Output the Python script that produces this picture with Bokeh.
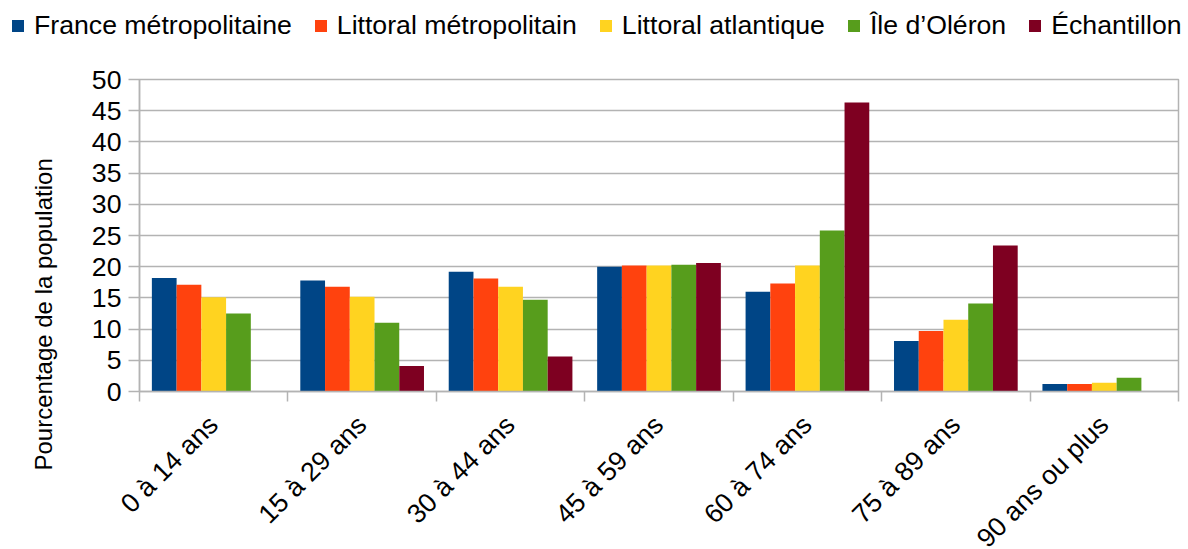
import math
import numpy as np
from bokeh.plotting import figure
from bokeh.layouts import column, row
from bokeh.models import Range1d, FixedTicker, Legend, LegendItem
from bokeh.core.properties import value
from bokeh.embed import file_html
from bokeh.resources import INLINE

categories = ["0 à 14 ans", "15 à 29 ans", "30 à 44 ans", "45 à 59 ans",
              "60 à 74 ans", "75 à 89 ans", "90 ans ou plus"]
series_names = ["France métropolitaine", "Littoral métropolitain",
                "Littoral atlantique", "Île d’Oléron", "Échantillon"]
colors = ["#004586", "#ff420e", "#ffd320", "#579d1c", "#7e0021"]
france = [18.2, 17.8, 19.2, 20.0, 16.0, 8.1, 1.2]
littoral = [17.1, 16.8, 18.1, 20.2, 17.3, 9.7, 1.2]
atlantique = [15.1, 15.2, 16.8, 20.2, 20.2, 11.5, 1.4]
oleron = [12.5, 11.0, 14.7, 20.3, 25.8, 14.1, 2.2]
echantillon = [0.0, 4.1, 5.6, 20.6, 46.3, 23.4, 0.0]
y_ticks = list(range(0, 55, 5))
y_title = "Pourcentage de la population"

series = [france, littoral, atlantique, oleron, echantillon]

FONT = "Liberation Sans"
GRID = "#b3b3b3"
W = 1188
TW = 60                       # width of the y-title strip, px
CW = W - TW                   # width of chart column, px
LEFT, RIGHT = 79, 10          # frame borders of the chart inside its column, px
LEG_H, CH_H, LAB_H = 63, 342, 144
n = len(categories)
bw = 1.0 / 6.0
centers = np.arange(n) + 0.5


def bare(fig):
    fig.frame_align = False
    fig.outline_line_color = None
    fig.grid.visible = False
    return fig


# ---- legend strip (series drawn far out of view, only the legend shows) ----
lg = bare(figure(width=W, height=LEG_H, x_range=Range1d(100, 101),
                 y_range=Range1d(1000, 1001),
                 output_backend="svg", toolbar_location=None,
                 x_axis_type=None, y_axis_type=None,
                 min_border_left=0, min_border_right=0, min_border_top=0,
                 min_border_bottom=0))
items = []
for k, (name, vals, col) in enumerate(zip(series_names, series, colors)):
    r = lg.vbar(x=centers + (k - 2) * bw, top=vals, width=bw,
                fill_color=col, line_color=None)
    items.append(LegendItem(label=name, renderers=[r]))
legend = Legend(items=items, orientation="horizontal", location="top_left",
                glyph_width=15, glyph_height=15, label_standoff=9, spacing=21,
                label_height=31, padding=0, margin=10, border_line_color=None,
                background_fill_alpha=0,
                label_text_font=FONT, label_text_font_size="26.67px",
                label_text_color="black")
lg.add_layout(legend, "center")

# ---- y title strip (pixel coordinates) ----
th = CH_H + LAB_H
ttl = bare(figure(width=TW, height=th, x_range=Range1d(0, TW), y_range=Range1d(0, th),
                  output_backend="svg", toolbar_location=None,
                  x_axis_type=None, y_axis_type=None,
                  min_border_left=0, min_border_right=0, min_border_top=0,
                  min_border_bottom=0))
ttl.text(x=[43], y=[th - (470 - LEG_H)], text=[y_title], angle=math.pi / 2,
         text_align="left", text_baseline="middle",
         text_font=value(FONT), text_font_size="24px", text_color="black")

# ---- main chart ----
p = figure(width=CW, height=CH_H, x_range=Range1d(0, n), y_range=Range1d(0, 50),
           output_backend="svg", toolbar_location=None,
           min_border_left=LEFT, min_border_right=RIGHT, min_border_top=16,
           min_border_bottom=14)
p.frame_align = False
p.background_fill_color = "white"
p.border_fill_color = "white"
p.outline_line_color = GRID
p.outline_line_width = 1.5

for k, (vals, col) in enumerate(zip(series, colors)):
    p.vbar(x=centers + (k - 2) * bw, top=vals, width=bw,
           fill_color=col, line_color=None)

p.xgrid.visible = False
p.ygrid.ticker = FixedTicker(ticks=y_ticks)
p.ygrid.grid_line_color = GRID
p.ygrid.grid_line_width = 1.5

ya = p.yaxis[0]
ya.ticker = FixedTicker(ticks=y_ticks)
ya.axis_line_color = GRID
ya.axis_line_width = 1.5
ya.major_tick_line_color = GRID
ya.major_tick_line_width = 1.5
ya.major_tick_out = 11
ya.major_tick_in = 0
ya.minor_tick_line_color = None
ya.major_label_standoff = 7
ya.major_label_text_font = FONT
ya.major_label_text_font_size = "26.67px"
ya.major_label_text_color = "black"

xa = p.xaxis[0]
xa.ticker = FixedTicker(ticks=list(centers), minor_ticks=list(range(n + 1)))
xa.axis_line_color = GRID
xa.axis_line_width = 1.5
xa.major_tick_out = 0
xa.major_tick_in = 0
xa.minor_tick_line_color = GRID
xa.minor_tick_line_width = 1.5
xa.minor_tick_out = 10
xa.minor_tick_in = 0
xa.major_label_overrides = {float(c): "" for c in centers}
xa.major_label_text_font_size = "0px"
xa.major_label_standoff = 0

# ---- category labels strip, aligned with the chart's x scale ----
unit = (CW - LEFT - RIGHT) / n
lab = bare(figure(width=CW, height=LAB_H,
                  x_range=Range1d(-LEFT / unit, n + RIGHT / unit), y_range=Range1d(0, 1),
                  output_backend="svg", toolbar_location=None,
                  x_axis_type=None, y_axis_type=None,
                  min_border_left=0, min_border_right=0, min_border_top=0,
                  min_border_bottom=0))
lab.text(x=list(centers), y=[1] * n, text=categories, angle=math.pi / 4,
         text_align="right", text_baseline="top", x_offset=-11, y_offset=4,
         text_font=value(FONT), text_font_size="26.67px", text_color="black")

layout = column(lg, row(ttl, column(p, lab, spacing=0), spacing=0), spacing=0)
open("out.html", "w").write(file_html(layout, INLINE))
